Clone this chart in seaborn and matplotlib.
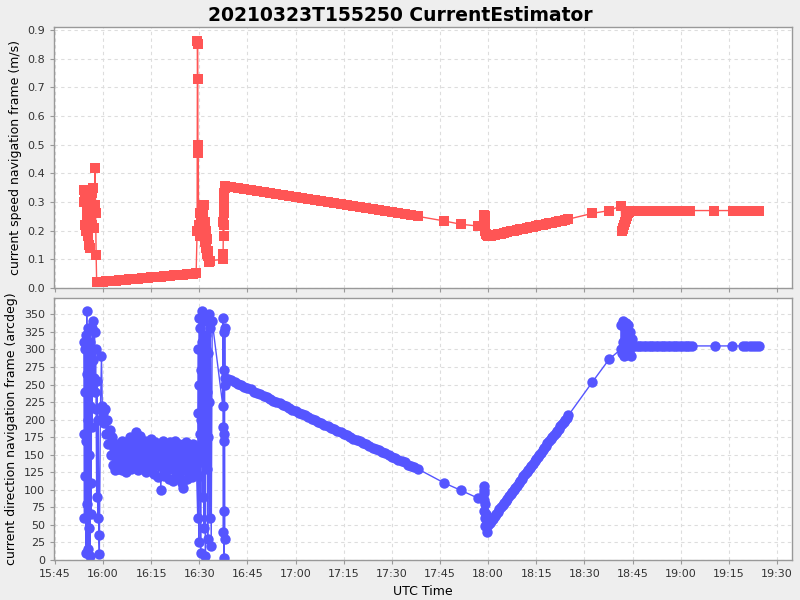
import seaborn as sns
import numpy as np
import pandas as pd
import matplotlib
matplotlib.use("Agg")
import matplotlib.pyplot as plt
import matplotlib.dates as mdates

# tiempos en minutos despues de 15:45 UTC (23/03/2021)
spd_t = [9.0, 9.17, 9.33, 9.5, 9.67, 9.83, 10.0, 10.17, 10.33, 10.5, 10.67, 10.83,
         11.0, 11.17, 11.33, 11.5, 11.67, 11.83, 12.0, 12.17, 12.33, 12.5, 12.67, 12.83, 13.0,
         14, 15, 16, 17, 18, 19, 20, 21, 22, 23, 24, 25, 26, 27, 28, 29, 30, 31, 32, 33,
         34, 35, 36, 37, 38, 39, 40, 41, 42, 43, 44,
         44.3, 44.4, 44.45, 44.5, 44.55, 44.6, 44.65, 44.75,
         45.0, 45.17, 45.33, 45.5, 45.67, 45.83, 46.0, 46.17, 46.33, 46.5, 46.67, 46.83,
         47.0, 47.17, 47.33, 47.5, 47.67, 47.83, 48.0, 48.33,
         52.3, 52.4, 52.5, 52.55, 52.6, 52.65, 52.7, 52.75, 52.8, 52.9,
         53, 55, 57, 59, 61, 63, 65, 67, 69, 71, 73, 75, 77, 79, 81, 83, 85, 87, 89, 91,
         93, 95, 97, 99, 101, 103, 105, 107, 109, 111, 113,
         121.2, 126.6, 131.9, 133.7, 133.75, 133.8, 133.85, 133.9, 134.0, 134.1, 134.3, 134.5,
         135, 136, 137, 138, 139, 140, 141, 142, 143, 144, 145, 146, 147, 148, 149, 150,
         151, 152, 153, 154, 155, 156, 157, 158, 159, 160,
         167.4, 172.7, 176.5, 176.7, 176.9, 177.1, 177.4, 177.7, 178.0, 178.3, 178.6, 178.9, 179.3,
         180, 181, 182, 183, 184, 185, 186, 187, 188, 189, 190, 191, 192, 193, 194, 195,
         196, 197, 198,
         205.4, 211.3, 214.5, 215.5, 216.5, 217.5, 218.5, 219.5]
spd_v = [0.30, 0.34, 0.22, 0.32, 0.20, 0.28, 0.25, 0.31, 0.18, 0.27, 0.15, 0.30,
         0.14, 0.24, 0.28, 0.33, 0.22, 0.27, 0.35, 0.21, 0.29, 0.42, 0.26, 0.115, 0.02,
         0.021, 0.022, 0.023, 0.024, 0.025, 0.026, 0.027, 0.028, 0.029, 0.030, 0.031, 0.032,
         0.033, 0.034, 0.035, 0.036, 0.037, 0.038, 0.039, 0.040, 0.041, 0.042, 0.043, 0.044,
         0.045, 0.046, 0.047, 0.048, 0.049, 0.050, 0.051,
         0.20, 0.86, 0.85, 0.73, 0.50, 0.47, 0.49, 0.20,
         0.22, 0.26, 0.18, 0.24, 0.28, 0.21, 0.25, 0.27, 0.19, 0.29, 0.16, 0.23,
         0.14, 0.20, 0.12, 0.17, 0.11, 0.13, 0.09, 0.095,
         0.10, 0.12, 0.23, 0.18, 0.26, 0.22, 0.30, 0.28, 0.33, 0.35,
         0.355, 0.352, 0.348, 0.345, 0.341, 0.338, 0.334, 0.331, 0.327, 0.324, 0.320,
         0.317, 0.313, 0.310, 0.306, 0.303, 0.299, 0.296, 0.292, 0.289, 0.285, 0.282,
         0.278, 0.275, 0.271, 0.268, 0.264, 0.261, 0.257, 0.254, 0.250,
         0.234, 0.222, 0.216, 0.215, 0.254, 0.24, 0.22, 0.25, 0.20, 0.23, 0.19, 0.185,
         0.180, 0.182, 0.185, 0.187, 0.190, 0.192, 0.194, 0.197, 0.199, 0.202, 0.204, 0.206,
         0.209, 0.211, 0.214, 0.216, 0.218, 0.221, 0.223, 0.226, 0.228, 0.230, 0.233, 0.235,
         0.238, 0.240,
         0.26, 0.27, 0.287, 0.20, 0.205, 0.21, 0.22, 0.23, 0.24, 0.25, 0.26, 0.265, 0.27,
         0.27, 0.27, 0.27, 0.27, 0.27, 0.27, 0.27, 0.27, 0.27, 0.27, 0.27, 0.27, 0.27,
         0.27, 0.27, 0.27, 0.27, 0.27, 0.27,
         0.27, 0.27, 0.27, 0.27, 0.27, 0.27, 0.27, 0.27]

# direccion: primer grupo caotico y bajada inicial
dir_t_a = [9.0, 9.1, 9.2, 9.3, 9.4, 9.5, 9.6, 9.7, 9.8, 9.9, 10.0, 10.1, 10.2, 10.3, 10.4,
           10.5, 10.6, 10.7, 10.8, 10.9, 11.0, 11.1, 11.2, 11.3, 11.4, 11.5, 11.67, 11.83,
           12.0, 12.17, 12.33, 12.5, 12.67, 12.83, 13.0, 13.17, 13.33, 13.5, 13.67, 13.83,
           14.17, 14.5, 14.75, 15.0,
           15.33, 15.67, 16.0, 16.33, 16.67, 17.0, 17.33, 17.67, 18.0, 18.33, 18.67, 19.0,
           19.33, 19.67, 20.0]
dir_v_a = [310, 180, 60, 300, 240, 120, 320, 10, 170, 355, 265, 80, 200, 15, 330,
           150, 290, 45, 220, 5, 310, 110, 250, 65, 300, 190, 330, 285,
           340, 260, 325, 240, 300, 215, 90, 255, 60, 200, 35, 8,
           215, 290, 220, 210,
           195, 215, 180, 200, 165, 185, 150, 175, 135, 160, 128, 145,
           165, 130, 150]

# banda ruidosa 16:05 - 16:29
dir_t_b = [20.25, 20.5, 20.75, 21.0, 21.25, 21.5, 21.75, 22.0, 22.25, 22.5,
           22.75, 23.0, 23.25, 23.5, 23.75, 24.0, 24.25, 24.5, 24.75, 25.0,
           25.25, 25.5, 25.75, 26.0, 26.25, 26.5, 26.75, 27.0, 27.25, 27.5,
           27.75, 28.0, 28.25, 28.5, 28.75, 29.0, 29.25, 29.5, 29.75, 30.0,
           30.25, 30.5, 30.75, 31.0, 31.25, 31.5, 31.75, 32.0, 32.25, 32.5,
           32.75, 33.0, 33.25, 33.5, 33.75, 34.0, 34.25, 34.5, 34.75, 35.0,
           35.25, 35.5, 35.75, 36.0, 36.25, 36.5, 36.75, 37.0, 37.25, 37.5,
           37.75, 38.0, 38.25, 38.5, 38.75, 39.0, 39.25, 39.5, 39.75, 40.0,
           40.25, 40.5, 40.75, 41.0, 41.25, 41.5, 41.75, 42.0, 42.25, 42.5,
           42.75, 43.0, 43.25, 43.5, 43.75, 44.0]
dir_v_b = [140, 158, 128, 170, 146, 135, 162, 150, 126, 168,
           155, 138, 175, 145, 130, 160, 148, 172, 136, 152,
           182, 140, 165, 128, 158, 176, 145, 133, 162, 150,
           138, 170, 155, 125, 148, 166, 140, 158, 130, 172,
           145, 160, 122, 150, 168, 135, 155, 142, 118, 163,
           148, 100, 158, 132, 170, 120, 150, 140, 165, 128,
           155, 115, 145, 168, 130, 160, 112, 150, 138, 170,
           125, 158, 142, 118, 165, 135, 150, 110, 160, 102,
           145, 128, 168, 115, 155, 140, 120, 162, 132, 150,
           118, 165, 128, 155, 140, 150]

# segundo grupo caotico (16:30) y columna de las 16:37
dir_t_c = [44.5, 44.6, 44.7, 44.8, 44.9, 45.0, 45.1, 45.2, 45.3, 45.4, 45.5, 45.6, 45.7, 45.8,
           45.9, 46.0, 46.1, 46.2, 46.3, 46.4, 46.5, 46.6, 46.7, 46.8, 46.9, 47.0, 47.1, 47.2,
           47.3, 47.4, 47.5, 47.6, 47.7, 47.8, 47.9, 48.0, 48.2, 48.4, 48.7, 49.0,
           52.3, 52.4, 52.45, 52.5, 52.55, 52.6, 52.65, 52.7, 52.75, 52.8, 52.85, 52.9, 52.95]
dir_v_c = [60, 210, 300, 25, 250, 345, 180, 120, 330, 10, 270, 200, 355, 140,
           310, 90, 230, 350, 165, 285, 45, 340, 190, 260, 5, 320, 215, 300,
           130, 345, 240, 30, 295, 175, 350, 225, 60, 330, 20, 340,
           220, 345, 190, 40, 325, 70, 170, 3, 270, 180, 30, 330, 250]

# bajada lineal 16:38 - 17:38
dir_t_d = [53, 54, 55, 56, 57, 58, 59, 60, 61, 62, 63, 64, 65, 66, 67, 68, 69, 70, 71, 72,
           73, 74, 75, 76, 77, 78, 79, 80, 81, 82, 83, 84, 85, 86, 87, 88, 89, 90, 91, 92,
           93, 94, 95, 96, 97, 98, 99, 100, 101, 102, 103, 104, 105, 106, 107, 108, 109,
           110, 111, 112, 113]
dir_v_d = [260, 258, 256, 253, 251, 249, 247, 245, 243, 240,
           238, 236, 234, 232, 230, 227, 225, 223, 221, 219,
           217, 214, 212, 210, 208, 206, 204, 201, 199, 197,
           195, 193, 191, 188, 186, 184, 182, 180, 178, 175,
           173, 171, 169, 167, 165, 162, 160, 158, 156, 154,
           152, 149, 147, 145, 143, 141, 139, 136, 134, 132,
           130]

# puntos sueltos, minimo de las 18:00 y subida hasta 18:25
dir_t_e = [121.2, 126.6, 131.9, 133.6, 133.7, 133.75, 133.8, 133.85, 133.9, 134.0, 134.1,
           134.3, 134.5, 134.8,
           135, 135.5, 136, 136.5, 137, 137.5, 138, 138.5, 139, 139.5, 140, 140.5, 141,
           141.5, 142, 142.5, 143, 143.5, 144, 144.5, 145, 145.5, 146, 146.5, 147, 147.5,
           148, 148.5, 149, 149.5, 150, 150.5, 151, 151.5, 152, 152.5, 153, 153.5, 154,
           154.5, 155, 155.5, 156, 156.5, 157, 157.5, 158, 158.5, 159, 159.5, 160]
dir_v_e = [110, 99, 88, 85, 105, 95, 70, 100, 60, 80, 48, 65, 40, 55,
           50, 53, 56, 59, 62, 66, 69, 72, 75, 78, 81, 84, 87, 91, 94,
           97, 100, 103, 106, 109, 112, 116, 119, 122, 125, 128, 131, 134, 137, 141,
           144, 147, 150, 153, 156, 159, 162, 166, 169, 172, 175, 178, 181, 184, 187,
           191, 194, 197, 200, 203, 206]

# grupo de las 18:43 y tramo plano final
dir_t_f = [167.4, 172.7, 176.3, 176.5, 176.7, 176.9, 177.1, 177.3, 177.5, 177.7, 177.9, 178.1,
           178.3, 178.5, 178.7, 178.9, 179.1, 179.4, 179.7, 180.1,
           180.5, 181.25, 182, 182.75, 183.5, 184.25, 185, 185.75, 186.5, 187.25, 188,
           188.75, 189.5, 190.25, 191, 191.75, 192.5, 193.25, 194, 194.75, 195.5, 196.25,
           197, 197.75, 198.4,
           205.6, 210.9, 214.5, 215.5, 216.5, 217.5, 218.5, 219.5]
dir_v_f = [253, 286, 300, 335, 295, 340, 310, 290, 330, 300, 338, 292,
           320, 305, 335, 296, 325, 290, 315, 305,
           305, 305, 305, 305, 305, 305, 305, 305, 305, 305, 305,
           305, 305, 305, 305, 305, 305, 305, 305, 305, 305, 305,
           305, 305, 305,
           305, 305, 305, 305, 305, 305, 305, 305]

dir_t = dir_t_a + dir_t_b + dir_t_c + dir_t_d + dir_t_e + dir_t_f
dir_v = dir_v_a + dir_v_b + dir_v_c + dir_v_d + dir_v_e + dir_v_f

base = pd.Timestamp("2021-03-23 15:45:00")
speed = pd.DataFrame({"time": base + pd.to_timedelta(spd_t, unit="min"), "speed": spd_v})
direc = pd.DataFrame({"time": base + pd.to_timedelta(dir_t, unit="min"), "direction": dir_v})

sns.set_style("whitegrid")
plt.rcParams["font.family"] = ["DejaVu Sans"]
plt.rcParams["text.color"] = "black"
plt.rcParams["axes.labelcolor"] = "black"

fig = plt.figure(figsize=(8, 6), dpi=100, facecolor="#EEEEEE")
ax1 = fig.add_axes([0.0675, 0.52, 0.9225, 0.435])
ax2 = fig.add_axes([0.0675, 0.0667, 0.9225, 0.4363], sharex=ax1)

sns.lineplot(data=speed, x="time", y="speed", ax=ax1, estimator=None, sort=False,
             color="#FF5555", lw=1, marker="s", markersize=6.5, markeredgewidth=0)
sns.lineplot(data=direc, x="time", y="direction", ax=ax2, estimator=None, sort=False,
             color="#5555FF", lw=1, marker="o", markersize=7.5, markeredgewidth=0)

for ax in (ax1, ax2):
    ax.set_facecolor("white")
    ax.grid(True, color="#DDDDDD", linestyle=(0, (3, 3)), linewidth=0.8)
    for s in ax.spines.values():
        s.set_color("#999999")
        s.set_linewidth(1)
    ax.tick_params(axis="both", which="both", length=3, color="#999999",
                   labelsize=8, labelcolor="#333333", bottom=True, left=True)

ax1.set_ylim(0, 0.91)
ax1.set_yticks(np.arange(0, 0.95, 0.1))
ax1.yaxis.set_major_formatter(plt.FuncFormatter(lambda v, p: f"{v:.1f}"))
ax1.set_ylabel("current speed navigation frame (m/s)", fontsize=9)
ax1.set_xlabel("")
plt.setp(ax1.get_xticklabels(), visible=False)

ax2.set_ylim(0, 373)
ax2.set_yticks(range(0, 351, 25))
ax2.set_ylabel("current direction navigation frame (arcdeg)", fontsize=9)
ax2.set_xlabel("UTC Time", fontsize=9)
ax2.set_xlim(base + pd.Timedelta(minutes=-0.3), base + pd.Timedelta(minutes=229.7))
ax2.xaxis.set_major_locator(mdates.MinuteLocator(byminute=[0, 15, 30, 45]))
ax2.xaxis.set_major_formatter(mdates.DateFormatter("%H:%M"))

fig.suptitle("20210323T155250 CurrentEstimator", fontsize=13.5, fontweight="bold",
             color="black", y=0.99)

fig.savefig("out.png", dpi=100, facecolor=fig.get_facecolor())
